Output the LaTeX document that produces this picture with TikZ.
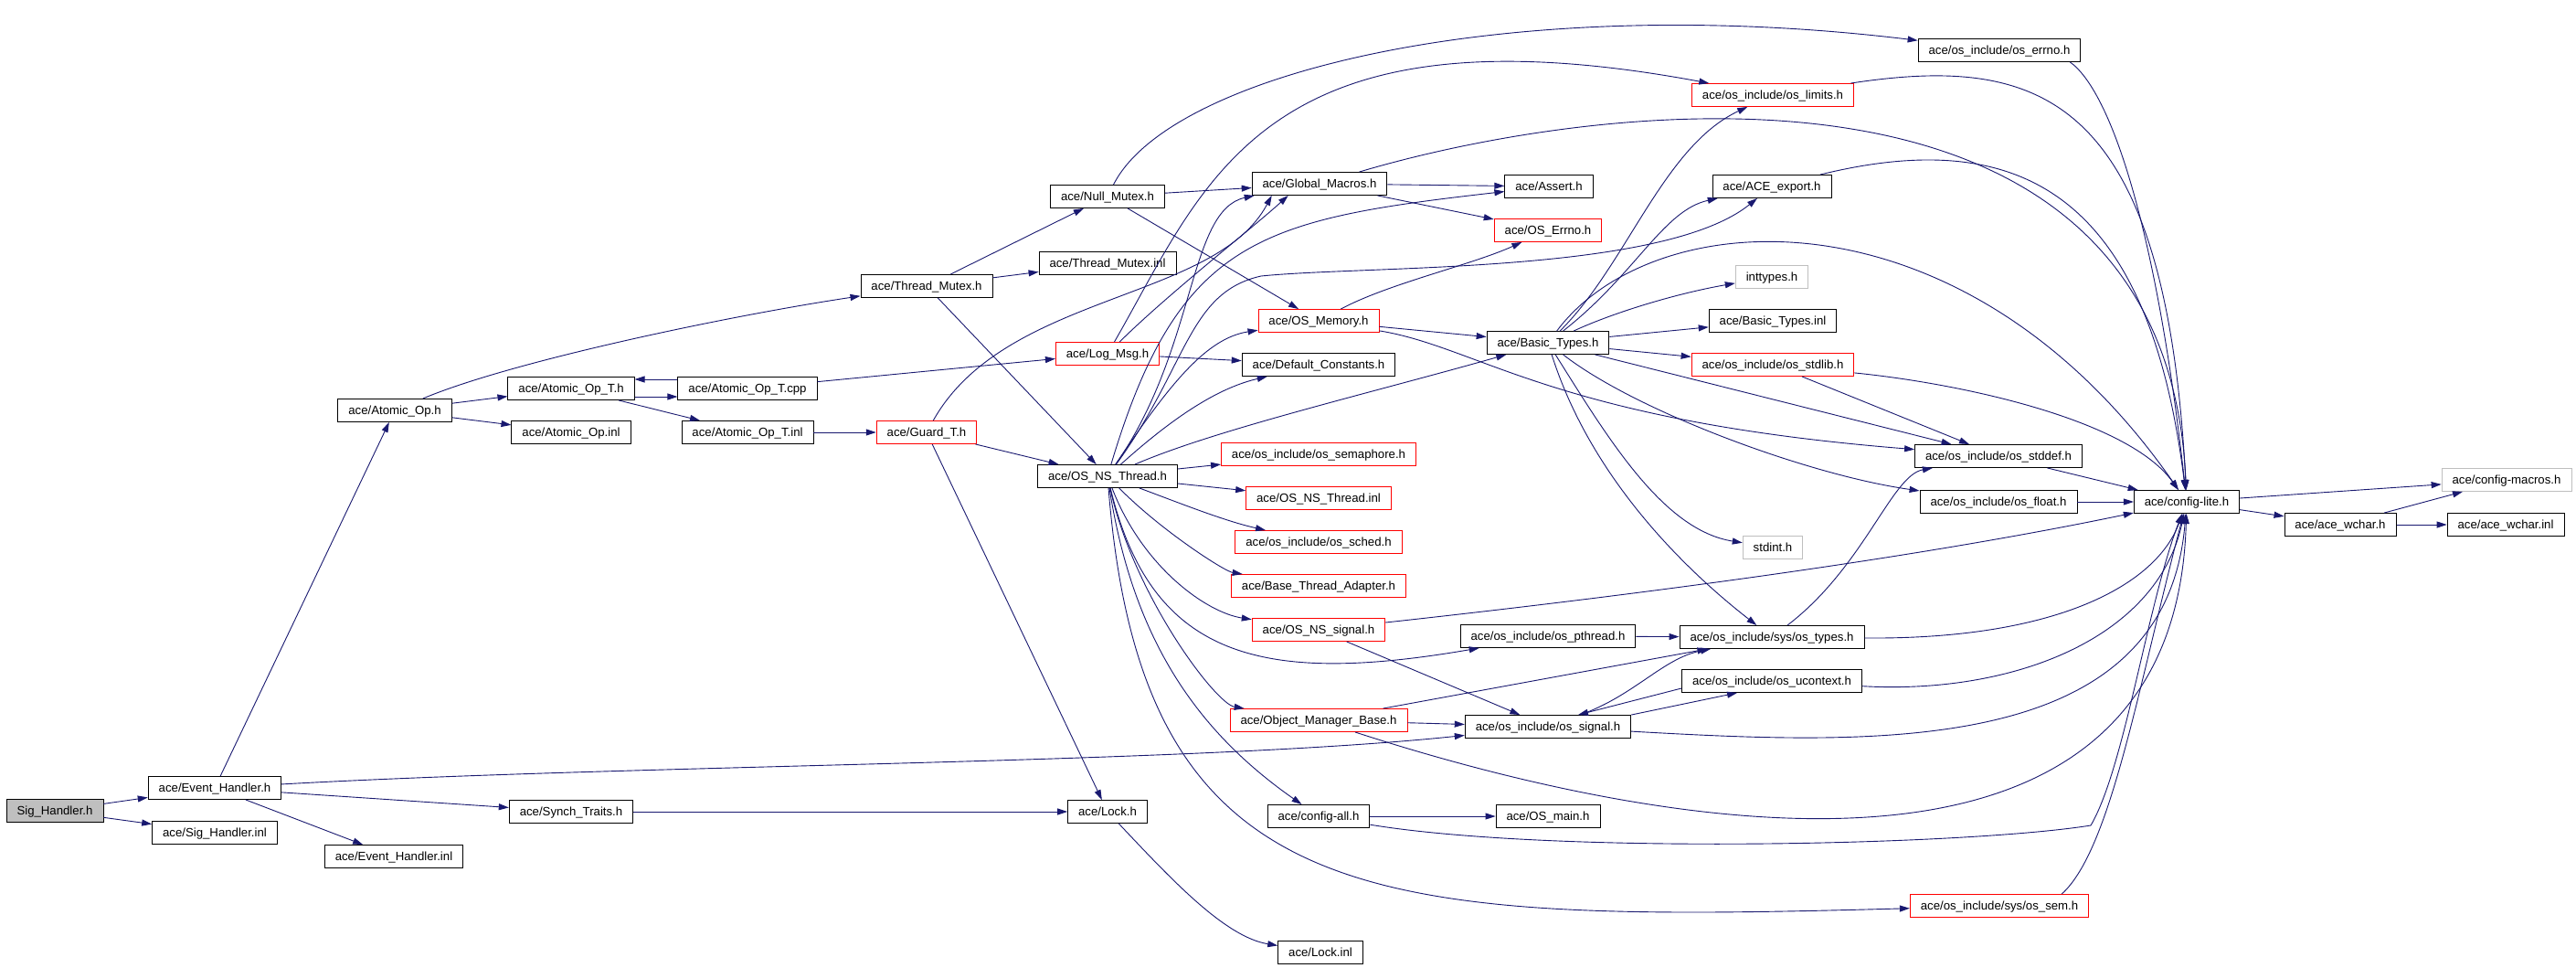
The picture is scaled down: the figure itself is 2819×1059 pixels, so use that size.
\documentclass[tikz,border=0pt]{standalone}
\usepackage{fontspec}
\setmainfont{Liberation Sans}
\usetikzlibrary{arrows.meta}
\definecolor{edgeblue}{HTML}{191970}
\definecolor{doxred}{HTML}{FF0000}
\definecolor{doxgray}{HTML}{BFBFBF}
\tikzset{every picture/.style={line width=0.9pt}}
\tikzset{file node/.style={rectangle, draw=black, inner xsep=11.5pt, inner ysep=0pt, minimum height=25pt, text height=10pt, text depth=1pt, font=\fontsize{13.2}{15}\selectfont}}
\tikzset{red file/.style={file node, draw=doxred}}
\tikzset{gray file/.style={file node, draw=doxgray}}
\tikzset{incl edge/.style={draw=edgeblue, -{Triangle[length=11pt,width=7pt]}}}

\begin{document}
\begin{tikzpicture}[x=1pt,y=1pt]
        \useasboundingbox[fill=white] (0,0) rectangle (2819,-1059);
        \node[file node, fill=doxgray] (sig) at (60,-887) {Sig\_Handler.h};
        \node[file node] (evh) at (235,-862) {ace/Event\_Handler.h};
        \node[file node] (siginl) at (235,-911) {ace/Sig\_Handler.inl};
        \node[file node] (evhinl) at (431,-937) {ace/Event\_Handler.inl};
        \node[file node] (synch) at (625,-888) {ace/Synch\_Traits.h};
        \node[file node] (aop) at (432,-449) {ace/Atomic\_Op.h};
        \node[file node] (aopt) at (625,-425) {ace/Atomic\_Op\_T.h};
        \node[file node] (aopinl) at (625,-473) {ace/Atomic\_Op.inl};
        \node[file node] (aoptcpp) at (818,-425) {ace/Atomic\_Op\_T.cpp};
        \node[file node] (aoptinl) at (818,-473) {ace/Atomic\_Op\_T.inl};
        \node[file node] (tmutex) at (1014,-313) {ace/Thread\_Mutex.h};
        \node[file node] (nmutex) at (1212,-215) {ace/Null\_Mutex.h};
        \node[file node] (tmutexinl) at (1212,-288) {ace/Thread\_Mutex.inl};
        \node[red file] (logmsg) at (1212,-387) {ace/Log\_Msg.h};
        \node[red file] (guard) at (1014,-473) {ace/Guard\_T.h};
        \node[file node] (nsthread) at (1212,-521) {ace/OS\_NS\_Thread.h};
        \node[file node] (lock) at (1212,-888) {ace/Lock.h};
        \node[file node] (lockinl) at (1445,-1042) {ace/Lock.inl};
        \node[file node] (gmacros) at (1444,-201) {ace/Global\_Macros.h};
        \node[red file] (osmem) at (1443,-351) {ace/OS\_Memory.h};
        \node[file node] (defconst) at (1443,-399) {ace/Default\_Constants.h};
        \node[red file] (semaphore) at (1443,-497) {ace/os\_include/os\_semaphore.h};
        \node[red file] (nsthreadinl) at (1443,-545) {ace/OS\_NS\_Thread.inl};
        \node[red file] (sched) at (1443,-593) {ace/os\_include/os\_sched.h};
        \node[red file] (bta) at (1443,-641) {ace/Base\_Thread\_Adapter.h};
        \node[red file] (nssignal) at (1443,-689) {ace/OS\_NS\_signal.h};
        \node[red file] (omb) at (1443,-788) {ace/Object\_Manager\_Base.h};
        \node[file node] (cfgall) at (1443,-893) {ace/config-all.h};
        \node[file node] (assert) at (1695,-204) {ace/Assert.h};
        \node[red file] (oserrh) at (1694,-252) {ace/OS\_Errno.h};
        \node[file node] (basic) at (1694,-375) {ace/Basic\_Types.h};
        \node[file node] (pthread) at (1694,-696) {ace/os\_include/os\_pthread.h};
        \node[file node] (ossignal) at (1694,-795) {ace/os\_include/os\_signal.h};
        \node[file node] (osmain) at (1694,-893) {ace/OS\_main.h};
        \node[red file] (oslimits) at (1940,-104) {ace/os\_include/os\_limits.h};
        \node[file node] (aceexport) at (1939,-204) {ace/ACE\_export.h};
        \node[gray file] (inttypes) at (1939,-303) {inttypes.h};
        \node[file node] (basicinl) at (1940,-351) {ace/Basic\_Types.inl};
        \node[red file] (stdlib) at (1940,-399) {ace/os\_include/os\_stdlib.h};
        \node[gray file] (stdint) at (1940,-599) {stdint.h};
        \node[file node] (ostypes) at (1939,-697) {ace/os\_include/sys/os\_types.h};
        \node[file node] (ucontext) at (1939,-745) {ace/os\_include/os\_ucontext.h};
        \node[file node] (oserrno) at (2188,-55) {ace/os\_include/os\_errno.h};
        \node[file node] (stddef) at (2187,-499) {ace/os\_include/os\_stddef.h};
        \node[file node] (osfloat) at (2187,-549) {ace/os\_include/os\_float.h};
        \node[red file] (ossem) at (2188,-991) {ace/os\_include/sys/os\_sem.h};
        \node[file node] (cfglite) at (2393,-549) {ace/config-lite.h};
        \node[file node] (wchar) at (2561,-574) {ace/ace\_wchar.h};
        \node[gray file] (cfgmacros) at (2743,-525) {ace/config-macros.h};
        \node[file node] (wcharinl) at (2742,-574) {ace/ace\_wchar.inl};

        \draw[incl edge] (sig) -- (evh);
        \draw[incl edge] (sig) -- (siginl);
        \draw[incl edge] (evh) -- (aop);
        \draw[incl edge] (evh) .. controls (700,-836) and (1300,-836) .. (ossignal);
        \draw[incl edge] (evh) -- (synch);
        \draw[incl edge] (evh) -- (evhinl);
        \draw[incl edge] (synch) -- (lock);
        \draw[incl edge] (lock) .. controls (1280,-960) and (1340,-1025) .. (lockinl);
        \draw[incl edge] (aop) .. controls (560,-395) and (800,-345) .. (tmutex);
        \draw[incl edge] (aop) -- (aopt);
        \draw[incl edge] (aop) -- (aopinl);
        \draw[incl edge] ([yshift=-9pt]aopt.east) -- ([yshift=-9pt]aoptcpp.west);
        \draw[incl edge] ([yshift=10pt]aoptcpp.west) -- ([yshift=10pt]aopt.east);
        \draw[incl edge] (aopt) -- (aoptinl);
        \draw[incl edge] (aoptcpp) -- (logmsg);
        \draw[incl edge] (aoptinl) -- (guard);
        \draw[incl edge] (tmutex) -- (nmutex);
        \draw[incl edge] (tmutex) -- (tmutexinl);
        \draw[incl edge] (tmutex) -- (nsthread);
        \draw[incl edge] (nmutex) -- (gmacros);
        \draw[incl edge] (nmutex) -- (osmem);
        \draw[incl edge] (nmutex) .. controls (1280,-80) and (1650,10) .. (oserrno);
        \draw[incl edge] (logmsg) .. controls (1280,-320) and (1370,-250) .. ([xshift=40pt]gmacros.south west);
        \draw[incl edge] (logmsg) -- (defconst);
        \draw[incl edge] (logmsg) .. controls (1320,-200) and (1380,0) .. (oslimits);
        \draw[incl edge] (guard) -- (lock);
        \draw[incl edge] (guard) .. controls (1100,-320) and (1330,-330) .. ([xshift=22pt]gmacros.south west);
        \draw[incl edge] (guard) -- (nsthread);
        \draw[incl edge] (nsthread) .. controls (1310,-380) and (1300,-230) .. ([xshift=3pt]gmacros.south west);
        \draw[incl edge] (nsthread) .. controls (1290,-260) and (1380,-240) .. (assert);
        \draw[incl edge] (nsthread) .. controls (1300,-400) and (1300,-320) .. (1380,-302) .. controls (1500,-290) and (1820,-300) .. (aceexport);
        \draw[incl edge] (nsthread) .. controls (1330,-470) and (1500,-430) .. (basic);
        \draw[incl edge] (nsthread) .. controls (1280,-420) and (1320,-370) .. (osmem);
        \draw[incl edge] (nsthread) .. controls (1280,-460) and (1330,-425) .. (defconst);
        \draw[incl edge] (nsthread) -- (semaphore);
        \draw[incl edge] (nsthread) -- (nsthreadinl);
        \draw[incl edge] (nsthread) .. controls (1290,-550) and (1340,-570) .. (sched);
        \draw[incl edge] (nsthread) .. controls (1270,-580) and (1340,-625) .. (bta);
        \draw[incl edge] (nsthread) .. controls (1250,-620) and (1320,-670) .. (nssignal);
        \draw[incl edge] (nsthread) .. controls (1260,-720) and (1380,-750) .. (pthread);
        \draw[incl edge] (nsthread) .. controls (1240,-650) and (1330,-770) .. (omb);
        \draw[incl edge] (nsthread) .. controls (1240,-700) and (1310,-800) .. (cfgall);
        \draw[incl edge] (nsthread) .. controls (1250,-1000) and (1500,-1010) .. (ossem);
        \draw[incl edge] (gmacros) -- (assert);
        \draw[incl edge] (gmacros) -- (oserrh);
        \draw[incl edge] (gmacros) .. controls (1750,-110) and (2370,-30) .. (cfglite);
        \draw[incl edge] (osmem) .. controls (1520,-310) and (1610,-290) .. (oserrh);
        \draw[incl edge] (osmem) -- (basic);
        \draw[incl edge] (osmem) .. controls (1620,-380) and (1700,-460) .. (stddef);
        \draw[incl edge] (basic) .. controls (1780,-290) and (1820,-160) .. (oslimits);
        \draw[incl edge] (basic) .. controls (1790,-300) and (1820,-230) .. (aceexport);
        \draw[incl edge] (basic) .. controls (1770,-340) and (1840,-320) .. (inttypes);
        \draw[incl edge] (basic) -- (basicinl);
        \draw[incl edge] (basic) -- (stdlib);
        \draw[incl edge] (basic) .. controls (1810,-220) and (2150,-200) .. (cfglite);
        \draw[incl edge] (basic) -- (stddef);
        \draw[incl edge] (basic) .. controls (1790,-450) and (1980,-520) .. (osfloat);
        \draw[incl edge] (basic) .. controls (1760,-480) and (1820,-580) .. (stdint);
        \draw[incl edge] (basic) .. controls (1740,-520) and (1840,-620) .. (ostypes);
        \draw[incl edge] ([xshift=-12pt]oserrno.south east) .. controls (2310,-100) and (2360,-250) .. (cfglite);
        \draw[incl edge] (oslimits) .. controls (2230,-60) and (2370,-100) .. (cfglite);
        \draw[incl edge] (aceexport) .. controls (2200,-140) and (2350,-200) .. (cfglite);
        \draw[incl edge] (stdlib) -- (stddef);
        \draw[incl edge] (stdlib) .. controls (2150,-420) and (2330,-460) .. (cfglite);
        \draw[incl edge] (stddef) -- (cfglite);
        \draw[incl edge] (osfloat) -- (cfglite);
        \draw[incl edge] (nssignal) .. controls (1800,-650) and (2100,-610) .. (cfglite);
        \draw[incl edge] (nssignal) -- (ossignal);
        \draw[incl edge] (pthread) -- (ostypes);
        \draw[incl edge] (ostypes) .. controls (2040,-620) and (2070,-520) .. (stddef);
        \draw[incl edge] (ostypes) .. controls (2250,-700) and (2360,-640) .. (cfglite);
        \draw[incl edge] (omb) -- (ossignal);
        \draw[incl edge] (omb) -- (ostypes);
        \draw[incl edge] (omb) .. controls (1850,-920) and (2380,-1000) .. (cfglite);
        \draw[incl edge] (ossignal) .. controls (1790,-760) and (1820,-720) .. (ostypes);
        \draw[incl edge] (ossignal.north east) -- ([xshift=-38pt]ucontext.south);
        \draw[incl edge] ([yshift=-8pt]ucontext.west) -- ([xshift=33pt]ossignal.north);
        \draw[incl edge] (ossignal) .. controls (2050,-815) and (2370,-830) .. (cfglite);
        \draw[incl edge] (ucontext) .. controls (2200,-760) and (2360,-700) .. (cfglite);
        \draw[incl edge] (cfgall) -- (osmain);
        \draw[incl edge] (cfgall) .. controls (1700,-935) and (2150,-925) .. (2288,-903) .. controls (2325,-840) and (2350,-660) .. (cfglite);
        \draw[incl edge] ([xshift=-30pt]ossem.north east) .. controls (2310,-930) and (2340,-750) .. (cfglite);
        \draw[incl edge] (cfglite) -- (cfgmacros);
        \draw[incl edge] (cfglite) -- (wchar);
        \draw[incl edge] (wchar) -- (cfgmacros);
        \draw[incl edge] (wchar) -- (wcharinl);
\end{tikzpicture}
\end{document}
